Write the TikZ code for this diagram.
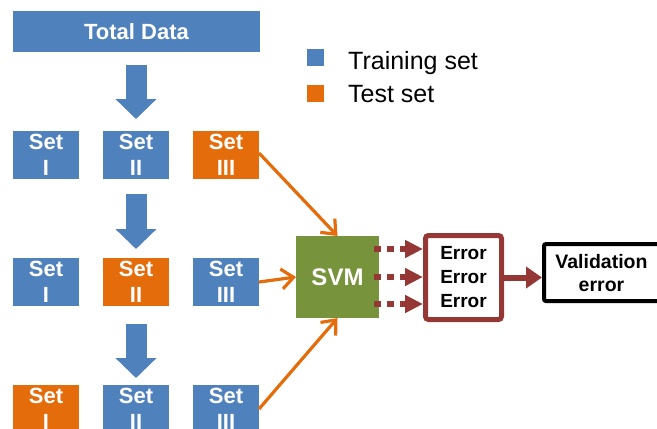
\documentclass[tikz,border=0pt]{standalone}
\usepackage{fontspec}
\setmainfont{Liberation Sans}
\usetikzlibrary{arrows.meta}
\definecolor{cblue}{HTML}{4F81BD}
\definecolor{corange}{HTML}{E46C0A}
\definecolor{cgreen}{HTML}{77933C}
\definecolor{cred}{HTML}{953735}
\begin{document}
\begin{tikzpicture}[x=1pt,y=-1pt,
  setbox/.style={minimum width=66pt, minimum height=48pt, inner sep=0pt, outer sep=0pt},
  settext/.style={anchor=north, inner sep=0pt, align=center, text=white,
    font=\fontsize{22}{26}\selectfont\bfseries, yshift=-3pt},
  blockarrow/.style={cblue, line width=21pt, -{Triangle[length=20pt,width=40pt]}},
  orangearrow/.style={corange, line width=3.2pt, -{Straight Barb[length=12pt,width=20pt]}},
  dotarrow/.style={cred, line width=6pt, dash pattern=on 7pt off 6pt, -{Triangle[length=18pt,width=17pt]}},
  redarrow/.style={cred, line width=6pt, -{Triangle[length=16pt,width=21pt]}},
  legsq/.style={minimum width=17pt, minimum height=17pt, inner sep=0pt},
  legtext/.style={anchor=base west, inner sep=0pt, font=\fontsize{25}{29}\selectfont}
]
\useasboundingbox (0,0) rectangle (657,429);
\clip (0,0) rectangle (657,429);

% Total data
\node[fill=cblue, minimum width=247pt, minimum height=41pt, inner sep=0pt,
  text=white, font=\fontsize{22}{26}\selectfont\bfseries] (total) at (136.5,31.5) {Total Data};

% legend
\node[legsq, fill=cblue] (lb) at (315.5,57.5) {};
\node[legsq, fill=corange] (lo) at (315.5,93.5) {};
\node[legtext] (lbt) at (348,69) {Training set};
\node[legtext] (lot) at (348,102) {Test set};

% row 1
\node[setbox, fill=cblue] (s11) at (46,155) {};
\node[setbox, fill=cblue] (s12) at (136,155) {};
\node[setbox, fill=corange] (s13) at (226,155) {};
% row 2
\node[setbox, fill=cblue] (s21) at (46,282) {};
\node[setbox, fill=corange] (s22) at (136,282) {};
\node[setbox, fill=cblue] (s23) at (226,282) {};
% row 3
\node[setbox, fill=corange] (s31) at (46,409) {};
\node[setbox, fill=cblue] (s32) at (136,409) {};
\node[setbox, fill=cblue] (s33) at (226,409) {};

\foreach \r in {1,2,3}{
  \node[settext] at (s\r1.north) {Set\\I};
  \node[settext] at (s\r2.north) {Set\\II};
  \node[settext] at (s\r3.north) {Set\\III};
}

% block arrows
\coordinate (a1s) at (136,65);  \coordinate (a1e) at (136,119);
\coordinate (a2s) at (136,194); \coordinate (a2e) at (136,249);
\coordinate (a3s) at (136,324); \coordinate (a3e) at (136,378);
\draw[blockarrow] (a1s) -- (a1e);
\draw[blockarrow] (a2s) -- (a2e);
\draw[blockarrow] (a3s) -- (a3e);

% SVM
\node[fill=cgreen, minimum width=83pt, minimum height=82pt, inner sep=0pt, outer sep=0pt,
  text=white, font=\fontsize{24}{28}\selectfont\bfseries] (svm) at (337.5,277) {SVM};

% Error box
\node[draw=cred, line width=5pt, rounded corners=3pt, fill=white,
  minimum width=76pt, minimum height=84pt, inner sep=0pt, align=center,
  font=\fontsize{19}{24}\selectfont\bfseries] (err) at (463.5,277.5) {Error\\Error\\Error};

% Validation box
\node[draw=black, line width=4pt, rounded corners=2pt, fill=white,
  minimum width=118pt, minimum height=57pt, inner sep=0pt] (val) at (603,272.5) {};
\node[align=center, inner sep=0pt, font=\fontsize{19.5}{23}\selectfont\bfseries] (valt)
  at (601.5,273.5) {Validation\\error};

% orange arrows
\draw[orangearrow] ([yshift=2pt]s13.east) -- (svm.north);
\draw[orangearrow] (s23.east) -- (svm.west);
\draw[orangearrow] (s33.east) -- (svm.south);

% dotted arrows
\draw[dotarrow] ([xshift=-5pt,yshift=28pt]svm.east) -- ([yshift=28pt]svm.east -| err.west);
\draw[dotarrow] ([xshift=-5pt]svm.east) -- (svm.east -| err.west);
\draw[dotarrow] ([xshift=-5pt,yshift=-27pt]svm.east) -- ([yshift=-27pt]svm.east -| err.west);

% solid arrow
\draw[redarrow] (err.east) -- (err.east -| val.west);
\end{tikzpicture}
\end{document}
